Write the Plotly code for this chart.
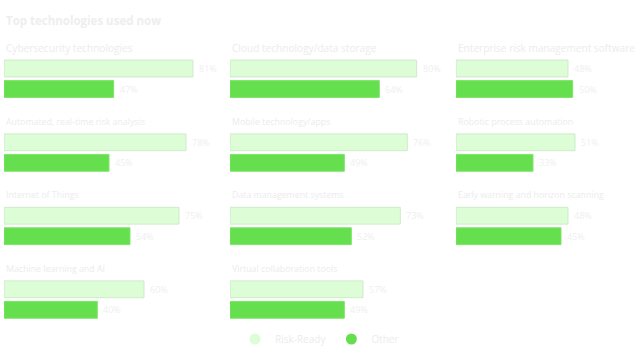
import plotly.graph_objects as go

chart_title = "Top technologies used now"
categories = [
    "Cybersecurity technologies", "Cloud technology/data storage", "Enterprise risk management software",
    "Automated, real-time risk analysis", "Mobile technology/apps", "Robotic process automation",
    "Internet of Things", "Data management systems", "Early warning and horizon scanning",
    "Machine learning and AI", "Virtual collaboration tools",
]
risk_ready = [81, 80, 48, 78, 76, 51, 75, 73, 48, 60, 57]
other = [47, 64, 50, 45, 49, 33, 54, 52, 45, 40, 49]
series_names = ["Risk-Ready", "Other"]

W, H = 640, 360
LIGHT = "#dcfdd6"
DARK = "#66df4e"
TEXT = "#ececec"
FONT = "Open Sans"
PX_PER_UNIT = 2.333
col_x = [4, 230, 456]
row_c = [68.5, 142.3, 215.7, 289.3]
SPACING = 20.5

fig = go.Figure()
annotations = []
layout = {}
for i, name in enumerate(categories):
    r, c = divmod(i, 3)
    n = i + 1
    xs = "" if n == 1 else str(n)
    x0 = col_x[c]
    x1 = min(x0 + 233, W)
    lc = row_c[r]
    ytop = lc - SPACING / 2
    ybot = lc + SPACING * 1.5
    layout[f"xaxis{xs}"] = dict(domain=[x0 / W, x1 / W], range=[0, (x1 - x0) / PX_PER_UNIT],
                                visible=False, fixedrange=True, anchor=f"y{xs}")
    layout[f"yaxis{xs}"] = dict(domain=[1 - ybot / H, 1 - ytop / H], range=[1.5, -0.5],
                                visible=False, fixedrange=True, anchor=f"x{xs}")
    for k, (vals, col, line) in enumerate([(risk_ready, LIGHT, "#cfeacb"), (other, DARK, "#7be566")]):
        fig.add_trace(go.Bar(
            x=[vals[i]], y=[k], orientation="h", width=0.82,
            marker=dict(color=col, line=dict(color=line, width=1)),
            xaxis=f"x{xs}", yaxis=f"y{xs}", showlegend=False, hoverinfo="skip",
        ))
        annotations.append(dict(
            x=vals[i], y=k, xref=f"x{xs}", yref=f"y{xs}", text=f"{vals[i]}%",
            showarrow=False, xanchor="left", yanchor="middle", xshift=4,
            font=dict(family=FONT, size=9, color="#efefef"),
        ))
    annotations.append(dict(
        x=x0 / W, y=1 - (lc - 20.8) / H, xref="paper", yref="paper", text=name,
        showarrow=False, xanchor="left", yanchor="middle",
        font=dict(family=FONT, size=10.1 if r == 0 else 8.8, color=TEXT),
    ))

annotations.append(dict(
    x=4 / W, y=1 - 20 / H, xref="paper", yref="paper", text=f"<b>{chart_title}</b>",
    showarrow=False, xanchor="left", yanchor="middle",
    font=dict(family=FONT, size=11.5, color="#eeeeee"),
))

for nm, col in zip(series_names, [LIGHT, DARK]):
    fig.add_trace(go.Scatter(
        x=[None], y=[None], mode="markers", name=nm,
        marker=dict(color=col, size=11, symbol="circle"),
        showlegend=True, xaxis="x", yaxis="y",
    ))

fig.update_layout(
    width=W, height=H,
    margin=dict(l=0, r=0, t=0, b=0),
    paper_bgcolor="white", plot_bgcolor="rgba(0,0,0,0)",
    barmode="overlay",
    showlegend=True,
    legend=dict(orientation="h", x=235 / W, xanchor="left", y=1 - 339 / H, yanchor="middle",
                font=dict(family=FONT, size=10, color=TEXT), itemclick=False, itemdoubleclick=False),
    annotations=annotations,
    **layout,
)

fig.write_html("out.html", config={"displayModeBar": False},
               post_script="document.body.style.margin='0';document.body.style.padding='0';")
